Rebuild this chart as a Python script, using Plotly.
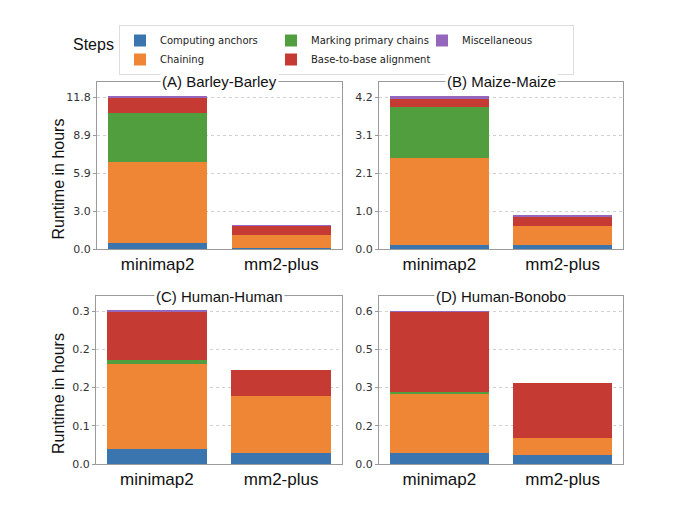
import plotly.graph_objects as go

tools = ["minimap2", "mm2-plus"]
steps = ["Computing anchors", "Chaining", "Marking primary chains",
         "Base-to-base alignment", "Miscellaneous"]
colors = ["#3a75b0", "#ef8636", "#519e3e", "#c53a32", "#9467bd"]
legend_rank = [1, 4, 2, 5, 3]

# runtime in hours per step, [minimap2, mm2-plus]
barley = {
    "Computing anchors": [0.44, 0.05],
    "Chaining": [6.30, 1.01],
    "Marking primary chains": [3.86, 0.0],
    "Base-to-base alignment": [1.14, 0.77],
    "Miscellaneous": [0.08, 0.02],
}
maize = {
    "Computing anchors": [0.11, 0.11],
    "Chaining": [2.42, 0.54],
    "Marking primary chains": [1.39, 0.0],
    "Base-to-base alignment": [0.23, 0.25],
    "Miscellaneous": [0.07, 0.02],
}
human = {
    "Computing anchors": [0.029, 0.021],
    "Chaining": [0.168, 0.112],
    "Marking primary chains": [0.007, 0.0],
    "Base-to-base alignment": [0.095, 0.051],
    "Miscellaneous": [0.002, 0.0],
}
bonobo = {
    "Computing anchors": [0.045, 0.034],
    "Chaining": [0.231, 0.068],
    "Marking primary chains": [0.006, 0.0],
    "Base-to-base alignment": [0.318, 0.218],
    "Miscellaneous": [0.001, 0.0],
}

panel_titles = ["(A) Barley-Barley", "(B) Maize-Maize", "(C) Human-Human", "(D) Human-Bonobo"]
panel_data = [barley, maize, human, bonobo]
panel_max = [11.8, 4.2, 0.3, 0.6]
tick_text = [
    ["0.0", "3.0", "5.9", "8.9", "11.8"],
    ["0.0", "1.0", "2.1", "3.1", "4.2"],
    ["0.0", "0.1", "0.2", "0.2", "0.3"],
    ["0.0", "0.2", "0.3", "0.5", "0.6"],
]

W, H = 680, 510
ML, MR = 90, 57  # narrower plot area so the legend wraps after 3 entries
GW = W - ML - MR


def px(x):
    return (x - ML) / GW


def py(y):
    return 1 - y / H


# plot boxes in pixels: x0, x1, y_top, y_bottom
boxes = [(97, 342, 82, 249), (379, 623, 82, 249),
         (96, 342, 296, 464), (379, 623, 296, 464)]

fig = go.Figure()
frame = "#9a9a9a"
tick_font = dict(family="DejaVu Sans", size=11, color="#333333")

for i, (data, box) in enumerate(zip(panel_data, boxes)):
    n = "" if i == 0 else str(i + 1)
    x0, x1, yt, yb = box
    for step, c, rank in zip(steps, colors, legend_rank):
        fig.add_trace(go.Bar(
            x=[0, 1], y=data[step], name=step, width=0.8,
            marker=dict(color=c, line=dict(width=0)),
            legendrank=rank, showlegend=(i == 0),
            xaxis="x" + n, yaxis="y" + n,
        ))
    top = panel_max[i]
    tv = [top * k / 4 for k in range(5)]
    fig.layout["xaxis" + n] = dict(
        domain=[px(x0), px(x1)], anchor="y" + n, range=[-0.49, 1.49],
        tickvals=[0, 1], ticktext=tools, showgrid=False, zeroline=False,
        showline=True, linecolor=frame, linewidth=1, mirror=True, ticks="",
        automargin=False,
        tickfont=dict(family="Liberation Sans", size=17, color="#111111"),
    )
    fig.layout["yaxis" + n] = dict(
        domain=[py(yb), py(yt)], anchor="x" + n, range=[0, top * 1.1],
        tickvals=tv, ticktext=tick_text[i], showgrid=True, gridcolor="#d0d0d0",
        griddash="dot", gridwidth=1, zeroline=False, showline=True,
        linecolor=frame, linewidth=1, mirror=True, ticks="outside",
        ticklen=3, tickcolor=frame, tickfont=tick_font, automargin=False,
    )
    fig.add_annotation(
        x=px((x0 + x1) / 2), y=py(yt), xref="paper", yref="paper",
        text=panel_titles[i], showarrow=False, xanchor="center", yanchor="middle",
        bgcolor="white", borderpad=1,
        font=dict(family="Liberation Sans", size=15, color="#111111"),
    )
    if i % 2 == 0:
        fig.add_annotation(
            x=px(58), y=py((yt + yb) / 2 + 14), xref="paper", yref="paper",
            text="Runtime in hours", textangle=-90, showarrow=False,
            xanchor="center", yanchor="middle",
            font=dict(family="Liberation Sans", size=16, color="#111111"),
        )

fig.add_annotation(
    x=px(93), y=py(44), xref="paper", yref="paper", text="Steps",
    showarrow=False, xanchor="center", yanchor="middle",
    font=dict(family="Liberation Sans", size=16, color="#111111"),
)

fig.update_layout(
    width=W, height=H, barmode="stack",
    margin=dict(l=ML, r=MR, t=0, b=0, autoexpand=False),
    plot_bgcolor="white", paper_bgcolor="white",
    legend=dict(
        orientation="h", xref="container", yref="container",
        x=119 / W, y=1 - 25 / H, xanchor="left", yanchor="top",
        entrywidth=106, traceorder="normal",
        bordercolor="#dddddd", borderwidth=1,
        font=dict(family="DejaVu Sans", size=10, color="#222222"),
    ),
)

fig.write_html("out.html", config={"displayModeBar": False},
               post_script="document.body.style.margin = '0';")
